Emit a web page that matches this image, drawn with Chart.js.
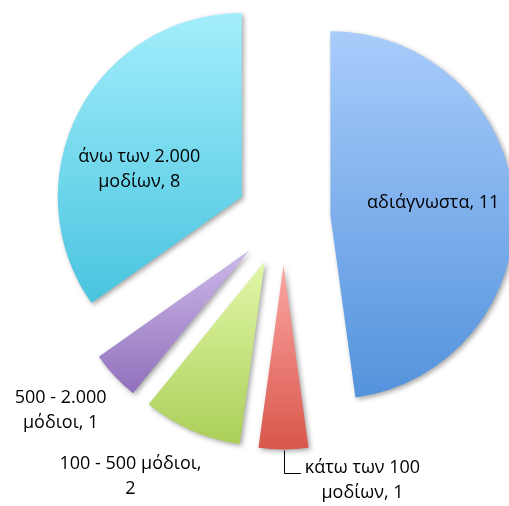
<!DOCTYPE html>
<html><head><meta charset="utf-8">
<script src="https://cdn.jsdelivr.net/npm/chart.js@4.4.0/dist/chart.umd.min.js"></script>
<style>html,body{margin:0;padding:0;background:#fff;overflow:hidden}#wrap{width:509px;height:506px;position:relative}</style>
</head><body><div id="wrap"><canvas id="c" width="509" height="506"></canvas></div>
<script>
// ---- data ----
const categories = ['αδιάγνωστα', 'κάτω των 100 μοδίων', '100 - 500 μόδιοι', '500 - 2.000 μόδιοι', 'άνω των 2.000 μοδίων'];
const values = [11, 1, 2, 1, 8];
const labelLines = [
  ['αδιάγνωστα, 11'],
  ['κάτω των 100', 'μοδίων, 1'],
  ['100 - 500 μόδιοι,', '2'],
  ['500 - 2.000', 'μόδιοι, 1'],
  ['άνω των 2.000', 'μοδίων, 8']
];
// ---- style ----
const topColors = ['#a9ccfb', '#fba7a3', '#e2f7a9', '#ccb9e9', '#a3eefc'];
const bottomColors = ['#5393dc', '#d9564b', '#abcf58', '#9170bc', '#49c4df'];
const RADIUS = 184, EXPLODE = 47;
// label anchor: fraction of radius along mid-angle, plus pixel nudge
const labelFrac = [0.56, 1, 1, 1, 0.56];
const labelNudge = [[0, -5], [79, 31], [-61, 46], [-54, 34], [-11, 20]];
const FONT = '18px "Open Sans", "Liberation Sans", Arial, sans-serif';
const LINE_H = 25;

function sliceGeom(chart, i) {
  const a = chart.chartArea;
  const cx = (a.left + a.right) / 2, cy = (a.top + a.bottom) / 2;
  const total = values.reduce((s, v) => s + v, 0);
  let cum = 0; for (let k = 0; k < i; k++) cum += values[k];
  const a0 = -Math.PI / 2 + 2 * Math.PI * cum / total;
  const a1 = a0 + 2 * Math.PI * values[i] / total;
  const mid = (a0 + a1) / 2;
  const sx = cx + Math.cos(mid) * EXPLODE, sy = cy + Math.sin(mid) * EXPLODE;
  const ys = [sy, sy + RADIUS * Math.sin(a0), sy + RADIUS * Math.sin(a1)];
  const inSpan = (t) => { for (let m = -1; m <= 1; m++) { const tt = t + 2 * Math.PI * m; if (tt >= a0 && tt <= a1) return true; } return false; };
  if (inSpan(Math.PI / 2)) ys.push(sy + RADIUS);
  if (inSpan(-Math.PI / 2)) ys.push(sy - RADIUS);
  return { sx, sy, mid, ymin: Math.min(...ys), ymax: Math.max(...ys) };
}

const explodePlugin = {
  id: 'explode',
  afterDatasetsUpdate(chart) {
    const meta = chart.getDatasetMeta(0);
    meta.data.forEach((arc) => {
      const mid = (arc.startAngle + arc.endAngle) / 2;
      arc.x += Math.cos(mid) * EXPLODE;
      arc.y += Math.sin(mid) * EXPLODE;
    });
  },
  beforeDatasetsDraw(chart) {
    const ctx = chart.ctx;
    ctx.save();
    ctx.shadowColor = 'rgba(0,0,0,0.35)';
    ctx.shadowBlur = 5;
    ctx.shadowOffsetX = 2;
    ctx.shadowOffsetY = 2;
  },
  afterDatasetsDraw(chart) {
    chart.ctx.restore();
    const ctx = chart.ctx;
    const meta = chart.getDatasetMeta(0);
    ctx.save();
    ctx.font = FONT;
    ctx.fillStyle = '#000';
    ctx.textAlign = 'center';
    ctx.textBaseline = 'middle';
    meta.data.forEach((arc, i) => {
      const mid = (arc.startAngle + arc.endAngle) / 2;
      const r = arc.outerRadius * labelFrac[i];
      const ax = arc.x + Math.cos(mid) * r + labelNudge[i][0];
      const ay = arc.y + Math.sin(mid) * r + labelNudge[i][1];
      const lines = labelLines[i];
      const y0 = ay - (lines.length - 1) * LINE_H / 2;
      lines.forEach((t, j) => ctx.fillText(t, ax, y0 + j * LINE_H));
      if (i === 1) {
        // leader line for the small red slice
        const ox = arc.x + Math.cos(mid) * arc.outerRadius;
        const oy = arc.y + Math.sin(mid) * arc.outerRadius;
        const w = ctx.measureText(lines[0]).width;
        ctx.strokeStyle = '#000';
        ctx.lineWidth = 1;
        ctx.beginPath();
        ctx.moveTo(Math.round(ox) + 0.5, oy + 1);
        ctx.lineTo(Math.round(ox) + 0.5, Math.round(y0 + 5) + 0.5);
        ctx.lineTo(ax - w / 2 - 4, Math.round(y0 + 5) + 0.5);
        ctx.stroke();
      }
    });
    ctx.restore();
  }
};

new Chart(document.getElementById('c'), {
  type: 'pie',
  data: {
    labels: categories,
    datasets: [{
      data: values,
      radius: RADIUS,
      borderWidth: 0,
      clip: false,
      backgroundColor: (c) => {
        const chart = c.chart;
        if (!chart.chartArea || c.dataIndex === undefined) return topColors[c.dataIndex || 0];
        const g = sliceGeom(chart, c.dataIndex);
        const grad = chart.ctx.createLinearGradient(0, g.ymin, 0, g.ymax);
        grad.addColorStop(0, topColors[c.dataIndex]);
        grad.addColorStop(1, bottomColors[c.dataIndex]);
        return grad;
      }
    }]
  },
  options: {
    responsive: false,
    animation: false,
    layout: { padding: { left: 58, right: 0, top: 0, bottom: 69 } },
    plugins: { legend: { display: false }, tooltip: { enabled: false } }
  },
  plugins: [explodePlugin]
});
</script>
</body></html>
